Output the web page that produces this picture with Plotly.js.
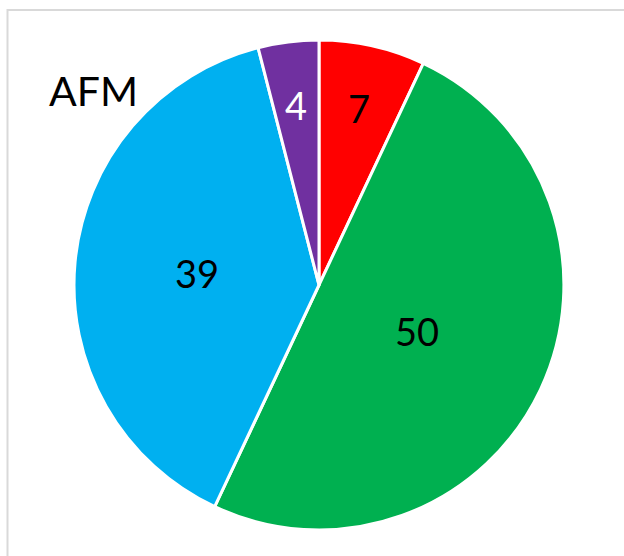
<!DOCTYPE html>
<html>
<head>
<meta charset="utf-8">
<script src="https://cdn.plot.ly/plotly-3.0.1.min.js"></script>
<style>
  body { margin: 0; padding: 0; background: #fff; }
  #chart { width: 624px; height: 556px; }
</style>
</head>
<body>
<div id="chart"></div>
<script>
// slices, clockwise from 12 o'clock
const categories = ["A", "B", "C", "D"];
const values = [7, 50, 39, 4];
const sliceColors = ["#FF0000", "#00B050", "#00B0F0", "#7030A0"];
const labelColors = ["#000000", "#000000", "#000000", "#FFFFFF"];
const chartTitle = "AFM";

const W = 624, H = 556;
const cx = 319, cy = 285, R = 245;   // pie centre and radius in pixels

var data = [{
    type: "pie",
    labels: categories,
    values: values,
    sort: false,
    direction: "clockwise",
    rotation: 0,
    textinfo: "none",
    marker: {colors: sliceColors, line: {color: "#FFFFFF", width: 3}},
    hoverinfo: "none",
    domain: {x: [(cx - R) / W, (cx + R) / W], y: [(H - cy - R) / H, (H - cy + R) / H]}
}];

// data labels like excel: small slices near the rim, big ones nearer the middle
var total = values.reduce((a, b) => a + b, 0);
var acc = 0;
var labelAnn = values.map(function (v, i) {
    var mid = (acc + v / 2) / total * 2 * Math.PI;
    acc += v;
    var share = v / total;
    var rf = share < 0.1 ? 0.74 : (share < 0.45 ? 0.5 : 0.44);
    var px = cx + Math.sin(mid) * R * rf;
    var py = cy - Math.cos(mid) * R * rf;
    return {
        text: String(v),
        xref: "paper", yref: "paper",
        x: px / W, y: 1 - py / H,
        xanchor: "center", yanchor: "middle",
        showarrow: false,
        font: {family: "Lato, sans-serif", size: 38, color: labelColors[i]}
    };
});

var layout = {
    width: W,
    height: H,
    margin: {l: 0, r: 0, t: 0, b: 0},
    showlegend: false,
    paper_bgcolor: "#FFFFFF",
    font: {family: "Lato, sans-serif"},
    annotations: [{
        text: chartTitle,
        xref: "paper", yref: "paper",
        x: 47 / W, y: 1 - 90 / H,
        xanchor: "left", yanchor: "middle",
        showarrow: false,
        font: {family: "Lato, sans-serif", size: 41, color: "#000000"}
    }].concat(labelAnn),
    shapes: [{
        type: "rect",
        xref: "paper", yref: "paper",
        x0: 7.5 / W, x1: 1.05, y0: -0.05, y1: 1 - 10 / H,
        line: {color: "#D9D9D9", width: 2}
    }]
};

Plotly.newPlot("chart", data, layout, {displayModeBar: false, staticPlot: true});
</script>
</body>
</html>
